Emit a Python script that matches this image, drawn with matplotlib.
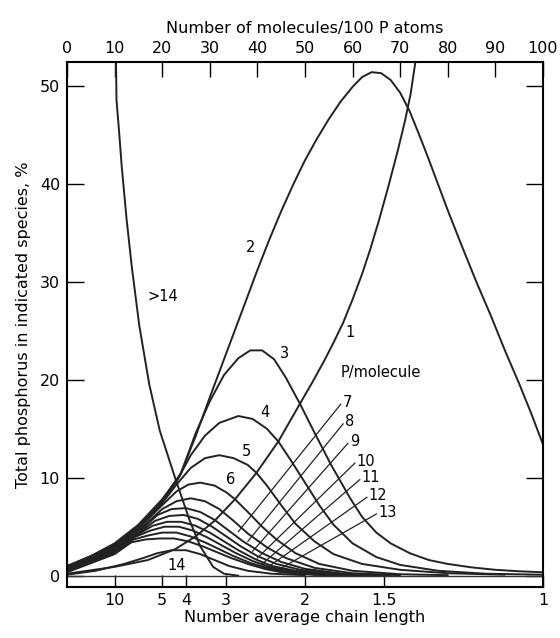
import numpy as np
import matplotlib.pyplot as plt

# molecules / 100 P atoms  vs  % of total P in each species
x_1 = [0, 10, 17, 22.7, 27, 31, 35.3, 39.8, 44.4, 49, 51.5, 54, 56, 58, 60, 62, 63.7,
       65.5, 67.5, 69.5, 71, 72.2, 73.2]
y_1 = [0.2, 0.9, 1.6, 2.7, 4.0, 5.6, 7.8, 10.5, 13.7, 17.6, 19.7, 21.9, 23.8, 25.8, 28.2,
       30.8, 33.3, 36.2, 39.7, 43.4, 46.4, 49.2, 52.45]

x_2 = [0, 5, 10, 15, 20, 23.7, 27, 30, 34, 37.7, 40, 42.5, 45, 47.5, 50, 52.5, 55, 57.5,
       60, 62, 64, 66, 68, 70, 72, 74, 76, 78, 80, 83, 86, 89, 92, 95, 97.5, 100]
y_2 = [1.0, 2.0, 3.3, 5.2, 7.8, 10.2, 14.2, 18.2, 23.4, 28.2, 31.2, 34.3, 37.2, 39.9,
       42.4, 44.6, 46.6, 48.4, 49.9, 50.9, 51.4, 51.3, 50.6, 49.3, 47.4, 45.0, 42.5,
       39.9, 37.3, 33.6, 30.0, 26.6, 23.0, 19.6, 16.6, 13.4]

x_3 = [0, 5, 10, 15, 20, 24, 27, 30, 33, 36, 38.5, 41, 43.5, 46, 49, 52, 55.5, 59.5, 62,
       65, 68, 72, 76, 80, 85, 90, 95, 100]
y_3 = [0.9, 1.9, 3.2, 5.1, 7.7, 10.5, 14.5, 17.8, 20.5, 22.2, 23.0, 23.0, 22.1, 20.2,
       17.5, 14.6, 11.3, 7.9, 6.0, 4.4, 3.3, 2.3, 1.6, 1.2, 0.85, 0.6, 0.45, 0.35]

x_4 = [0, 10, 15, 20, 23, 26, 29, 32, 36, 39, 42, 44.4, 47, 50, 53, 56, 60, 65, 70, 78, 88, 100]
y_4 = [0.9, 3.1, 5.0, 7.6, 9.6, 12.3, 14.3, 15.6, 16.3, 16.0, 15.0, 13.7, 11.8, 9.5, 7.2,
       5.2, 3.3, 1.9, 1.1, 0.5, 0.2, 0.1]

x_5 = [0, 10, 15, 20, 23, 26, 29, 32, 35, 38, 39.8, 42, 45, 48, 52, 56, 62, 70, 80, 92]
y_5 = [0.8, 3.0, 4.9, 7.4, 9.3, 11.0, 12.0, 12.3, 12.0, 11.3, 10.5, 9.2, 7.2, 5.3, 3.5,
       2.2, 1.2, 0.6, 0.25, 0.1]

x_6 = [0, 10, 15, 20, 23, 25.5, 28, 31, 33.5, 35.3, 38, 41, 44, 48, 53, 60, 70, 80]
y_6 = [0.8, 2.9, 4.8, 7.2, 8.6, 9.3, 9.5, 9.2, 8.5, 7.8, 6.5, 5.0, 3.7, 2.3, 1.2, 0.5,
       0.15, 0.05]

# longer chains 7..13
x_7 = [0, 10, 15, 20, 23, 26, 29, 32, 35, 38, 42, 46, 52, 60, 70]
y_7 = [0.7, 2.8, 4.6, 6.8, 7.6, 7.9, 7.6, 6.8, 5.6, 4.3, 2.9, 1.8, 0.8, 0.25, 0.05]
x_8 = [0, 10, 15, 19, 22, 25, 28, 31, 34, 37, 41, 45, 50, 58, 68]
y_8 = [0.6, 2.7, 4.4, 6.2, 6.8, 6.9, 6.5, 5.7, 4.6, 3.5, 2.3, 1.4, 0.7, 0.2, 0.05]
x_9 = [0, 10, 15, 18.5, 21.5, 24.5, 27.5, 30.5, 33.5, 36.5, 40, 44, 49, 56, 66]
y_9 = [0.55, 2.6, 4.3, 5.6, 6.1, 6.2, 5.8, 5.0, 4.0, 3.0, 2.0, 1.2, 0.6, 0.2, 0.05]
x_10 = [0, 10, 14.5, 18, 21, 24, 27, 30, 33, 36, 39.5, 43, 48, 55, 64]
y_10 = [0.5, 2.5, 4.1, 5.1, 5.5, 5.5, 5.1, 4.4, 3.5, 2.6, 1.7, 1.0, 0.5, 0.15, 0.05]
x_11 = [0, 10, 14, 17.5, 20.5, 23.5, 26.5, 29.5, 32.5, 35.5, 39, 42.5, 47, 54, 62]
y_11 = [0.45, 2.4, 3.9, 4.6, 5.0, 5.0, 4.6, 3.9, 3.1, 2.3, 1.5, 0.9, 0.45, 0.12, 0.04]
x_12 = [0, 10, 14, 17, 20, 23, 26, 29, 32, 35, 38.5, 42, 46, 53, 60]
y_12 = [0.4, 2.3, 3.7, 4.1, 4.4, 4.4, 4.0, 3.4, 2.7, 2.0, 1.3, 0.8, 0.4, 0.1, 0.03]
x_13 = [0, 10, 13.5, 16.5, 19.5, 22.5, 25.5, 28.5, 31.5, 34.5, 38, 41.5, 45, 52, 58]
y_13 = [0.35, 2.2, 3.4, 3.7, 3.8, 3.8, 3.5, 3.0, 2.4, 1.8, 1.2, 0.7, 0.35, 0.08, 0.02]

x_14 = [0, 6, 12, 16, 19, 22, 25, 28, 31, 34, 38, 43, 50]
y_14 = [0.1, 0.5, 1.2, 1.8, 2.3, 2.6, 2.6, 2.2, 1.6, 1.0, 0.5, 0.2, 0.05]

x_gt14 = [10.3, 10.4, 11.0, 11.5, 12.5, 13.6, 15.2, 17.3, 19.5, 21.5, 22.7, 25.8, 28,
          30.7, 33, 36]
y_gt14 = [52.45, 48.6, 45.0, 41.8, 36.5, 31.6, 25.5, 19.5, 14.8, 11.8, 10.0, 5.6, 3.0,
          0.9, 0.2, 0.0]

# leader lines for the labels 7..13: start (on the curve) and end (at the label)
lead_x0 = [36, 38, 39, 40, 41, 42, 44]
lead_y0 = [4.5, 3.5, 2.5, 1.8, 1.2, 0.8, 0.5]
lead_x1 = [57.5, 58, 59, 60.5, 61.5, 63, 65]
lead_y1 = [17.5, 15.5, 13.5, 11.5, 9.8, 8.0, 6.3]
lead_names = ["7", "8", "9", "10", "11", "12", "13"]

top_ticks = list(range(0, 101, 10))
chain_lengths = [10, 5, 4, 3, 2, 1.5, 1]
chain_labels = ["10", "5", "4", "3", "2", "1.5", "1"]

plt.rcParams['font.family'] = 'DejaVu Sans'
fig = plt.figure(figsize=(5.6, 6.38), dpi=100)
ax = fig.add_axes([0.1196, 0.080, 0.85, 0.823])

curves = [(x_1, y_1), (x_2, y_2), (x_3, y_3), (x_4, y_4), (x_5, y_5), (x_6, y_6),
          (x_7, y_7), (x_8, y_8), (x_9, y_9), (x_10, y_10), (x_11, y_11),
          (x_12, y_12), (x_13, y_13), (x_14, y_14), (x_gt14, y_gt14)]
for xs, ys in curves:
    ax.plot(xs, ys, color='#222222', lw=1.4, solid_capstyle='round',
            solid_joinstyle='round')

for x0, y0, x1, y1, name in zip(lead_x0, lead_y0, lead_x1, lead_y1, lead_names):
    ax.plot([x0, x1], [y0, y1], color='#222222', lw=0.9)
    ax.text(x1 + 0.4, y1 + 0.2, name, fontsize=10.5, ha='left', va='center')

ax.axhline(0, color='#333333', lw=1.0)

ax.text(37.5, 33.0, "2", fontsize=10.5)
ax.text(44.8, 22.2, "3", fontsize=10.5)
ax.text(40.6, 16.2, "4", fontsize=10.5)
ax.text(36.8, 12.2, "5", fontsize=10.5)
ax.text(33.4, 9.4, "6", fontsize=10.5)
ax.text(58.5, 24.4, "1", fontsize=10.5)
ax.text(57.5, 20.7, "P/molecule", fontsize=10.5, va='center')
ax.text(21.2, 1.0, "14", fontsize=10.5, va='center')
ax.text(17.0, 28.5, ">14", fontsize=10.5, va='center')

ax.set_xlim(0, 100)
ax.set_ylim(-1.15, 52.45)

ax.xaxis.tick_top()
ax.xaxis.set_label_position('top')
ax.set_xticks(top_ticks)
ax.set_xlabel("Number of molecules/100 P atoms", fontsize=11.5, labelpad=6)
ax.tick_params(axis='x', direction='in', length=11, width=1.0, labelsize=11.5, pad=4)

ax.set_yticks(range(0, 51, 10))
ax.set_ylabel("Total phosphorus in indicated species, %", fontsize=11.5, labelpad=6)
ax.tick_params(axis='y', direction='in', length=12, width=1.0, labelsize=11.5,
               right=True, pad=5)

bottom = ax.secondary_xaxis('bottom')
bottom.set_xticks([100.0 / n for n in chain_lengths])
bottom.set_xticklabels(chain_labels)
bottom.tick_params(direction='in', length=9, width=1.0, labelsize=11.5, pad=4)
bottom.set_xlabel("Number average chain length", fontsize=11.5, labelpad=2)

for s in ax.spines.values():
    s.set_linewidth(1.5)
for s in bottom.spines.values():
    s.set_linewidth(1.5)

fig.savefig("out.png", dpi=100)
